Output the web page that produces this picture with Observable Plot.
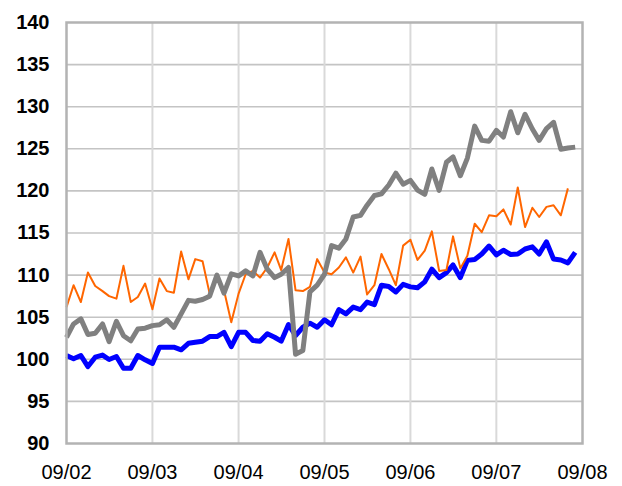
<!DOCTYPE html>
<html>
<head>
<meta charset="utf-8">
<script src="https://cdn.jsdelivr.net/npm/d3@7"></script>
<script src="https://cdn.jsdelivr.net/npm/@observablehq/plot@0.6"></script>
<style>
  html, body { margin: 0; padding: 0; background: #ffffff; }
  #chart svg { display: block; }
</style>
</head>
<body>
<div id="chart"></div>
<script>
// Monthly series starting September 2002
const startYear = 2002;
const startMonthIndex = 8; // September (0-based)

const xTickLabels = ["09/02", "09/03", "09/04", "09/05", "09/06", "09/07", "09/08"];
const yTickValues = [90, 95, 100, 105, 110, 115, 120, 125, 130, 135, 140];

const grayValues = [
  102.6, 104.2, 104.8, 102.95, 103.1, 104.2, 102.1, 104.5, 102.8, 102.2, 103.6, 103.7,
  104.0, 104.1, 104.7, 103.8, 105.4, 107.0, 106.9, 107.1, 107.5, 110.0, 107.85, 110.15,
  109.9, 110.5, 109.9, 112.7, 110.7, 109.7, 110.1, 110.9, 100.6, 101.05, 108.0, 108.8,
  110.1, 113.5, 113.2, 114.3, 116.9, 117.1, 118.3, 119.45, 119.65, 120.7, 122.1, 120.8,
  121.25, 120.1, 119.6, 122.6, 120.05, 123.4, 124.05, 121.8, 123.9, 127.7, 126.0, 125.9,
  127.2, 126.4, 129.4, 126.9, 129.1, 127.35, 126.0, 127.4, 128.15, 124.95, 125.1, 125.2
];

const blueValues = [
  100.45, 100.06, 100.45, 99.14, 100.25, 100.5, 99.98, 100.33, 98.94, 98.94, 100.45, 99.94,
  99.5, 101.44, 101.44, 101.44, 101.13, 101.9, 102.03, 102.15, 102.7, 102.7, 103.2, 101.5,
  103.2, 103.2, 102.23, 102.15, 103.03, 102.62, 102.15, 104.13, 102.83, 103.81, 104.29, 103.81,
  104.69, 104.1, 105.9, 105.4, 106.2, 105.9, 106.8, 106.5, 108.8, 108.65, 108.0, 108.9,
  108.6, 108.5, 109.2, 110.7, 109.7, 110.3, 111.2, 109.7, 111.75, 111.85, 112.5, 113.45,
  112.4, 112.95, 112.45, 112.5, 113.1, 113.35, 112.5, 113.95, 111.9, 111.8, 111.45, 112.7
];

const orangeValues = [
  106.2, 108.8, 106.8, 110.3, 108.7, 108.1, 107.5, 107.2, 111.1, 106.8, 107.4, 109.0,
  105.95, 109.6, 108.1, 107.9, 112.8, 109.5, 111.9, 111.65, 107.8, 110.0, 108.2, 104.4,
  107.8, 110.1, 110.5, 109.7, 110.9, 112.7, 110.6, 114.3, 108.2, 108.1, 108.6, 111.9,
  110.3, 110.1, 110.9, 112.1, 110.3, 112.2, 107.7, 108.8, 112.5, 110.7, 108.8, 113.5,
  114.2, 111.8, 112.9, 115.2, 110.5, 110.6, 114.6, 110.8, 112.3, 116.1, 115.1, 117.1,
  117.0, 117.8, 116.0, 120.4, 115.7, 118.0, 116.9, 118.1, 118.3, 117.1, 120.3
];

const seriesNames = ["blue", "orange", "gray"];
const seriesColors = { blue: "#0000ff", orange: "#ff6600", gray: "#808080" };
const seriesWidths = { blue: 5, orange: 2, gray: 5 };

const monthDate = (i) => new Date(Date.UTC(startYear, startMonthIndex + i, 1));
const toRows = (values) => values.map((v, i) => ({ date: monthDate(i), value: v }));
const seriesData = { blue: toRows(blueValues), orange: toRows(orangeValues), gray: toRows(grayValues) };

const xTickDates = xTickLabels.map((_, k) => new Date(Date.UTC(startYear + k, startMonthIndex, 1)));
const labelFor = new Map(xTickDates.map((d, k) => [+d, xTickLabels[k]]));

const chart = Plot.plot({
  width: 622,
  height: 486,
  marginLeft: 66,
  marginRight: 40,
  marginTop: 22,
  marginBottom: 43,
  style: { fontFamily: "'Liberation Sans', Arial, sans-serif", background: "#ffffff", color: "#000000" },
  x: { type: "utc", domain: [xTickDates[0], xTickDates[xTickDates.length - 1]] },
  y: { domain: [90, 140] },
  marks: [
    Plot.gridY(yTickValues.slice(1, -1), { stroke: "#c4c4c4", strokeOpacity: 1, strokeWidth: 1.6 }),
    Plot.gridX(xTickDates.slice(1, -1), { stroke: "#d9d9d9", strokeOpacity: 1, strokeWidth: 2 }),
    ...seriesNames.map((name) =>
      Plot.line(seriesData[name], {
        x: "date",
        y: "value",
        stroke: seriesColors[name],
        strokeWidth: seriesWidths[name],
        strokeLinejoin: "round",
        strokeLinecap: "butt"
      })
    ),
    Plot.frame({ stroke: "#b3b3b3", strokeWidth: 2.5 }),
    Plot.axisY(yTickValues, {
      tickSize: 0,
      tickPadding: 17,
      fontSize: 20,
      fontWeight: "bold",
      label: null
    }),
    Plot.axisX(xTickDates, {
      tickSize: 0,
      tickPadding: 21,
      fontSize: 20,
      tickFormat: (d) => labelFor.get(+d),
      label: null
    })
  ]
});

document.getElementById("chart").appendChild(chart);
</script>
</body>
</html>
